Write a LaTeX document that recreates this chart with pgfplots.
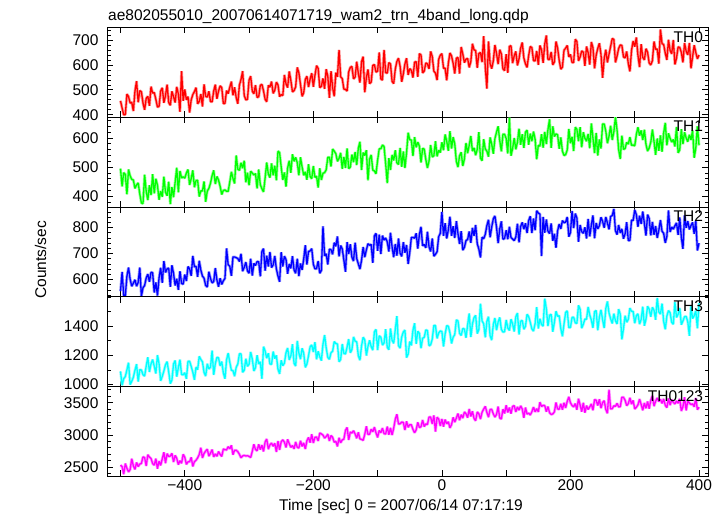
\documentclass[border=0pt]{standalone}
\usepackage{fontspec}
\setmainfont{Liberation Sans}
\usepackage{pgfplots}
\usepackage{pgfplotstable}
\pgfplotsset{compat=1.18}

\definecolor{qred}{RGB}{255,0,0}
\definecolor{qgreen}{RGB}{0,255,0}
\definecolor{qblue}{RGB}{0,0,255}
\definecolor{qcyan}{RGB}{0,255,255}
\definecolor{qmag}{RGB}{255,0,255}
\newcommand{\lbl}{\fontsize{15.5bp}{18bp}\selectfont}

% light curves, 2.5 s sampling
\pgfplotstableread{
t th0 th1 th2 th3 tha
-500 456 495 555 1090 2530
-497.5 427 434 629 995 2506
-495 400 481 538 1040 2390
-492.5 401 475 538 1055 2555
-490 483 407 613 1101 2481
-487.5 473 492 646 1150 2425
-485 447 470 601 1000 2462
-482.5 450 458 574 1022 2630
-480 415 456 586 1050 2518
-477.5 495 427 599 1098 2464
-475 535 439 574 1140 2572
-472.5 450 446 589 1020 2507
-470 497 408 646 1102 2547
-467.5 492 377 535 1100 2557
-465 447 375 568 1067 2659
-462.5 420 474 577 1058 2648
-460 466 417 606 1127 2517
-457.5 474 387 621 1187 2692
-455 436 438 591 1086 2656
-452.5 513 404 628 1142 2633
-450 487 476 626 1172 2554
-447.5 489 410 550 1125 2531
-445 462 460 589 1076 2631
-442.5 431 438 538 1202 2475
-440 434 388 607 1142 2594
-437.5 496 418 645 1025 2527
-435 508 398 587 1056 2630
-432.5 448 467 671 1093 2729
-430 477 414 627 1136 2561
-427.5 521 402 641 1157 2709
-425 449 450 644 1087 2665
-422.5 438 373 572 1006 2671
-420 494 432 655 1030 2714
-417.5 473 397 624 1141 2579
-415 449 448 577 1165 2682
-412.5 512 498 603 1054 2637
-410 483 414 560 1115 2537
-407.5 412 487 632 1171 2599
-405 575 463 585 1069 2559
-402.5 456 467 582 1067 2699
-400 502 462 619 1081 2653
-397.5 460 480 594 1039 2542
-395 473 492 650 1159 2582
-392.5 409 439 641 1160 2583
-390 460 461 614 1124 2651
-387.5 481 489 691 1085 2511
-385 493 431 649 1032 2584
-382.5 509 454 651 1120 2606
-380 444 455 610 1102 2643
-377.5 453 399 672 1194 2696
-375 483 419 636 1172 2800
-372.5 433 418 613 1156 2641
-370 522 451 605 1083 2713
-367.5 474 381 577 1058 2749
-365 471 418 571 1143 2778
-362.5 494 427 630 1107 2670
-360 453 445 604 1118 2715
-357.5 452 471 587 1233 2772
-355 495 489 592 1066 2658
-352.5 521 442 644 1143 2705
-350 464 468 598 1186 2667
-347.5 495 456 572 1184 2742
-345 516 434 605 1128 2698
-342.5 509 406 581 1158 2665
-340 445 420 595 1080 2782
-337.5 446 422 604 1040 2769
-335 497 417 720 1169 2767
-332.5 485 417 657 1216 2818
-330 510 449 651 1153 2783
-327.5 533 484 614 1098 2838
-325 478 461 687 1095 2692
-322.5 510 444 687 1057 2761
-320 469 540 684 1118 2762
-317.5 444 493 681 1141 2739
-315 519 489 669 1211 2698
-312.5 542 515 699 1211 2644
-310 575 496 632 1084 2673
-307.5 477 522 647 1098 2682
-305 460 448 667 1177 2672
-302.5 462 481 633 1125 2677
-300 539 438 624 1139 2666
-297.5 555 486 680 1224 2649
-295 495 480 615 1175 2745
-292.5 484 473 662 1093 2854
-290 519 478 654 1116 2774
-287.5 470 427 669 1201 2753
-285 472 492 668 1141 2854
-282.5 518 440 612 1156 2772
-280 522 426 708 1040 2843
-277.5 496 415 719 1260 2743
-275 462 463 634 1230 2890
-272.5 452 516 692 1181 2936
-270 518 476 650 1215 2778
-267.5 511 464 706 1141 2847
-265 533 513 646 1139 2872
-262.5 486 472 656 1226 2824
-260 498 505 691 1178 2870
-257.5 531 455 641 1200 2735
-255 520 555 613 1105 2904
-252.5 473 550 591 1073 2766
-250 481 500 705 1166 2894
-247.5 477 456 650 1129 2923
-245 560 482 690 1147 2887
-242.5 524 433 677 1219 2804
-240 509 497 622 1251 2930
-237.5 574 522 660 1169 2865
-235 538 481 643 1197 2806
-232.5 492 544 690 1277 2836
-230 497 520 637 1146 2782
-227.5 512 534 624 1127 2891
-225 590 515 680 1300 2807
-222.5 568 472 613 1217 2796
-220 522 534 662 1174 2909
-217.5 474 501 637 1249 2821
-215 488 472 678 1216 2875
-212.5 542 484 732 1118 2780
-210 555 457 658 1141 2909
-207.5 511 510 708 1197 2961
-205 543 468 710 1259 2880
-202.5 567 460 719 1272 3010
-200 512 504 659 1223 2873
-197.5 558 465 641 1291 2963
-195 597 469 642 1173 2967
-192.5 586 430 671 1228 2905
-190 509 496 624 1191 3029
-187.5 514 456 635 1164 3015
-185 546 479 805 1277 2997
-182.5 504 481 691 1340 2951
-180 583 491 699 1252 2973
-177.5 554 534 658 1186 3013
-175 468 534 717 1173 2904
-172.5 575 502 715 1219 2991
-170 509 562 697 1228 2962
-167.5 474 555 742 1295 2885
-165 569 546 728 1282 2901
-162.5 552 520 766 1278 2821
-160 660 530 689 1156 2955
-157.5 552 549 731 1172 2877
-155 545 494 718 1278 2923
-152.5 503 535 675 1214 2933
-150 502 497 630 1210 3071
-147.5 495 564 744 1257 3115
-145 572 495 698 1312 2921
-142.5 590 500 736 1218 3045
-140 594 543 686 1240 3028
-137.5 544 517 671 1327 3065
-135 551 552 742 1298 3014
-132.5 613 507 681 1293 2947
-130 566 565 660 1198 3040
-127.5 529 587 640 1167 2937
-125 613 490 674 1266 2930
-122.5 633 550 725 1325 2915
-120 490 540 686 1307 3009
-117.5 549 558 714 1199 3133
-115 582 455 738 1262 3008
-112.5 525 527 732 1304 3009
-110 531 542 735 1260 3089
-107.5 598 490 664 1236 3047
-105 601 487 768 1362 3120
-102.5 571 477 778 1379 3031
-100 575 524 711 1236 2961
-97.5 650 563 773 1335 3069
-95 544 563 698 1325 3032
-92.5 539 576 769 1271 3106
-90 660 571 752 1285 3021
-87.5 569 512 760 1380 3012
-85 567 445 745 1256 3129
-82.5 609 531 708 1239 3001
-80 604 490 780 1385 3109
-77.5 534 542 726 1304 2997
-75 525 523 686 1283 3103
-72.5 583 558 737 1379 3244
-70 614 515 692 1470 3320
-67.5 627 509 758 1267 3168
-65 594 566 701 1250 3172
-62.5 532 501 689 1327 3199
-60 564 554 744 1361 3193
-57.5 604 497 703 1374 3075
-55 627 549 733 1185 3210
-52.5 560 618 660 1209 3118
-50 585 594 704 1295 3158
-47.5 578 593 762 1269 3156
-45 549 538 762 1373 3085
-42.5 611 603 759 1421 3032
-40 613 568 778 1279 3079
-37.5 552 586 719 1366 3196
-35 645 572 773 1351 3114
-32.5 640 516 803 1249 3126
-30 568 564 730 1318 3231
-27.5 575 562 735 1324 3128
-25 608 526 722 1375 3171
-22.5 604 497 784 1371 3160
-20 584 521 726 1266 3278
-17.5 654 576 708 1273 3276
-15 634 535 758 1312 3169
-12.5 575 539 690 1405 3302
-10 567 589 697 1405 3050
-7.5 539 537 707 1317 3274
-5 622 558 765 1354 3248
-2.5 639 550 778 1368 3138
0 645 585 860 1364 3247
2.5 587 558 768 1261 3128
5 587 612 817 1347 3237
7.5 538 589 758 1404 3172
10 606 556 791 1401 3204
12.5 648 623 842 1355 3108
15 636 564 768 1282 3158
17.5 606 603 805 1325 3272
20 565 580 760 1343 3198
22.5 627 520 825 1444 3262
25 630 500 777 1437 3332
27.5 565 539 737 1352 3228
30 672 551 786 1337 3313
32.5 644 504 713 1385 3260
35 609 528 724 1381 3355
37.5 623 583 750 1321 3328
40 626 548 754 1409 3266
42.5 590 575 785 1488 3402
45 613 607 741 1326 3287
47.5 685 555 799 1415 3368
50 660 566 768 1460 3255
52.5 658 541 810 1475 3219
55 588 561 738 1350 3356
57.5 645 620 717 1378 3328
60 650 531 685 1555 3245
62.5 611 522 763 1437 3352
65 715 596 757 1417 3400
67.5 591 562 774 1324 3443
70 505 555 808 1434 3349
72.5 694 536 830 1466 3275
75 605 602 763 1335 3395
77.5 585 579 802 1305 3396
80 616 546 834 1413 3325
82.5 680 598 845 1457 3276
85 645 620 801 1373 3318
87.5 603 640 740 1430 3439
90 661 591 795 1461 3262
92.5 644 554 824 1379 3247
95 584 613 755 1360 3399
97.5 577 613 758 1363 3332
100 643 598 790 1444 3460
102.5 568 547 755 1389 3349
105 674 670 803 1371 3424
107.5 677 539 762 1449 3330
110 607 564 756 1416 3442
112.5 636 600 750 1364 3454
115 654 561 763 1465 3356
117.5 598 585 815 1491 3435
120 624 632 743 1344 3383
122.5 667 577 804 1435 3451
125 690 613 820 1440 3402
127.5 628 566 794 1380 3264
130 604 620 817 1399 3424
132.5 590 627 779 1483 3322
135 638 577 827 1466 3338
137.5 674 615 844 1427 3309
140 669 589 779 1382 3360
142.5 617 622 835 1367 3433
145 616 596 790 1419 3356
147.5 656 527 865 1532 3408
150 600 575 856 1385 3356
152.5 678 572 852 1452 3508
155 660 613 690 1412 3441
157.5 608 567 841 1401 3458
160 684 621 780 1590 3454
162.5 718 579 831 1519 3360
165 622 629 786 1401 3439
167.5 622 664 777 1476 3345
170 652 566 816 1482 3317
172.5 600 640 749 1363 3325
175 612 605 776 1427 3357
177.5 694 614 722 1504 3503
180 668 611 787 1468 3401
182.5 618 563 814 1473 3399
185 583 602 795 1384 3482
187.5 591 555 827 1331 3391
190 659 540 819 1417 3499
192.5 667 543 821 1495 3418
195 678 559 841 1506 3521
197.5 632 631 765 1391 3590
200 642 582 781 1392 3498
202.5 610 604 864 1461 3455
205 610 555 798 1462 3436
207.5 703 637 854 1423 3487
210 694 630 837 1420 3389
212.5 616 589 745 1544 3562
215 631 637 810 1518 3464
217.5 656 568 784 1387 3360
220 651 620 778 1414 3498
222.5 596 599 801 1450 3344
225 674 589 758 1448 3454
227.5 649 614 833 1533 3394
230 601 565 766 1478 3434
232.5 692 650 810 1443 3480
235 669 600 847 1389 3382
237.5 586 548 759 1501 3548
240 639 617 818 1508 3538
242.5 666 540 795 1373 3455
245 687 595 807 1463 3554
247.5 642 564 840 1513 3415
250 548 648 824 1446 3502
252.5 626 648 799 1388 3531
255 661 623 841 1522 3395
257.5 610 582 818 1571 3335
260 643 606 793 1491 3700
262.5 674 642 843 1452 3403
265 706 593 846 1419 3407
267.5 702 621 872 1487 3452
270 610 672 788 1438 3443
272.5 635 627 773 1416 3490
275 666 560 810 1518 3434
277.5 680 528 779 1483 3438
280 678 608 795 1310 3585
282.5 632 561 757 1383 3584
285 628 564 776 1473 3537
287.5 654 585 821 1428 3454
290 605 579 750 1448 3484
292.5 574 603 751 1525 3575
295 658 575 829 1503 3477
297.5 696 576 827 1502 3535
300 673 573 868 1421 3402
302.5 710 612 850 1473 3428
305 638 637 803 1486 3466
307.5 591 608 846 1415 3555
310 683 626 814 1447 3472
312.5 630 593 862 1535 3381
315 620 628 816 1404 3496
317.5 665 578 769 1449 3412
320 651 555 850 1538 3519
322.5 607 566 835 1517 3407
325 600 586 770 1465 3538
327.5 617 629 822 1531 3606
330 694 588 772 1510 3446
332.5 662 542 806 1445 3522
335 664 598 760 1595 3574
337.5 605 556 790 1499 3517
340 742 609 829 1484 3553
342.5 685 553 786 1556 3488
345 682 617 778 1434 3558
347.5 647 652 741 1379 3459
350 620 575 766 1470 3423
352.5 701 616 866 1508 3566
355 658 599 783 1494 3462
357.5 644 586 802 1427 3547
360 700 595 794 1414 3506
362.5 602 571 807 1565 3480
365 627 638 818 1461 3527
367.5 672 549 772 1483 3492
370 670 559 839 1526 3559
372.5 650 630 762 1411 3370
375 610 579 718 1437 3437
377.5 688 620 847 1466 3583
380 655 600 799 1468 3380
382.5 640 587 825 1431 3528
385 688 611 793 1335 3495
387.5 586 593 808 1538 3471
390 632 626 820 1453 3482
392.5 679 532 776 1473 3436
395 650 566 826 1506 3572
397.5 624 640 712 1386 3391
400 640 575 740 1560 3430
}\lc

\pgfplotsset{
  panel/.style={
    scale only axis, width=601bp, height=89.8bp,
    xmin=-521, xmax=414,
    xtick={-500,-400,...,400}, xticklabels={},
    tick align=inside,
    major tick length=6bp, minor tick length=3.5bp,
    axis line style={line width=1bp},
    every tick/.style={black, line width=0.7bp},
    tick label style={font=\lbl},
    yticklabel style={xshift=-5bp},
    scaled y ticks=false,
    /pgf/number format/assume math mode=true,
    /pgf/number format/1000 sep={},
  },
  halo/.style={forget plot, mark=none, line width=2.8bp, color=#1, line join=bevel},
  core/.style={mark=none, line width=1.3bp, color=#1, line join=bevel},
}

\begin{document}
\begin{tikzpicture}[x=1bp, y=1bp, font=\lbl]
\path[use as bounding box] (0,0) rectangle (723,516);

% TH0
\begin{axis}[panel, at={(107bp,398.7bp)},
  ymin=390, ymax=750, ytick={400,500,600,700}, minor ytick={380,400,...,740}]
\addplot[halo=qred!40] table[x=t, y=th0] {\lc};
\addplot[core=qred] table[x=t, y=th0] {\lc};
\node[anchor=north east, inner sep=0pt] at (rel axis cs:0.992,0.96) {TH0};
\end{axis}

% TH1
\begin{axis}[panel, at={(107bp,308.9bp)},
  ymin=363, ymax=671, ytick={400,500,600}, minor ytick={380,400,...,660}]
\addplot[halo=qgreen!40] table[x=t, y=th1] {\lc};
\addplot[core=qgreen] table[x=t, y=th1] {\lc};
\node[anchor=north east, inner sep=0pt] at (rel axis cs:0.992,0.96) {TH1};
\end{axis}

% TH2
\begin{axis}[panel, at={(107bp,219.1bp)},
  ymin=533, ymax=879, ytick={600,700,800}, minor ytick={540,560,...,860}]
\addplot[halo=qblue!40] table[x=t, y=th2] {\lc};
\addplot[core=qblue] table[x=t, y=th2] {\lc};
\node[anchor=north east, inner sep=0pt] at (rel axis cs:0.992,0.96) {TH2};
\end{axis}

% TH3
\begin{axis}[panel, at={(107bp,129.3bp)},
  ymin=985, ymax=1602, ytick={1000,1200,1400}, minor ytick={1000,1100,...,1600}]
\addplot[halo=qcyan!40] table[x=t, y=th3] {\lc};
\addplot[core=qcyan] table[x=t, y=th3] {\lc};
\node[anchor=north east, inner sep=0pt] at (rel axis cs:0.992,0.96) {TH3};
\end{axis}

% TH0123
\begin{axis}[panel, at={(107bp,39.5bp)},
  ymin=2354, ymax=3748, ytick={2500,3000,3500}, minor ytick={2400,2500,...,3700},
  xticklabels={,−400,,−200,,0,,200,,400}]
\addplot[halo=qmag!40] table[x=t, y=tha] {\lc};
\addplot[core=qmag] table[x=t, y=tha] {\lc};
\node[anchor=north east, inner sep=0pt] at (rel axis cs:0.992,0.96) {TH0123};
\end{axis}

\node[anchor=base west, inner sep=0pt] at (108,495) {ae802055010\_20070614071719\_wam2\_trn\_4band\_long.qdp};
\node[anchor=base, inner sep=0pt] at (401,5.3) {Time [sec] 0 = 2007/06/14 07:17:19};
\node[anchor=base, inner sep=0pt, rotate=90] at (46,256) {Counts/sec};
\end{tikzpicture}
\end{document}
